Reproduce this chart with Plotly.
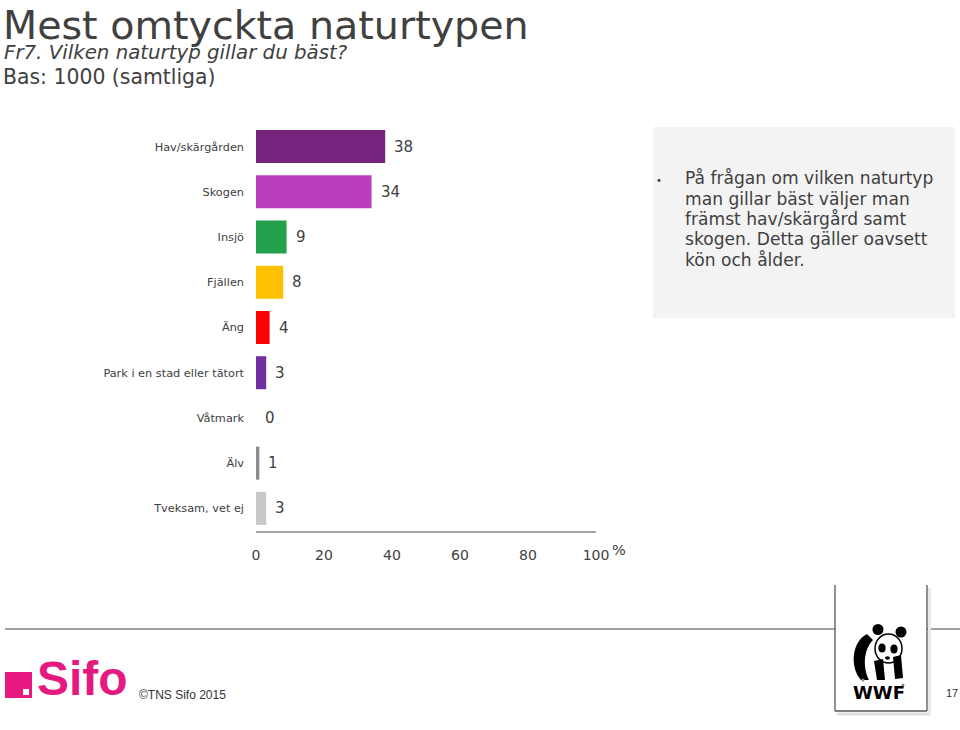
import plotly.graph_objects as go

categories = ["Hav/skärgården", "Skogen", "Insjö", "Fjällen", "Äng",
              "Park i en stad eller tätort", "Våtmark", "Älv", "Tveksam, vet ej"]
values = [38, 34, 9, 8, 4, 3, 0, 1, 3]
colors = ["#76237D", "#B93FBF", "#22A04B", "#FFC000", "#FF0000",
          "#7030A0", "#7F7F7F", "#8C8C8C", "#C8C8C8"]
x_ticks = [0, 20, 40, 60, 80, 100]
box_lines = ["På frågan om vilken naturtyp", "man gillar bäst väljer man",
             "främst hav/skärgård samt", "skogen. Detta gäller oavsett",
             "kön och ålder."]

W, H = 960, 730
def px(x): return x / W
def py(y): return 1 - y / H

FONT = "DejaVu Sans"
TXT = "#404040"

fig = go.Figure()
fig.add_trace(go.Bar(
    x=values, y=categories, orientation="h",
    marker=dict(color=colors, line=dict(width=0)),
    width=0.73, hoverinfo="x+y", showlegend=False,
))

annotations = []
for c, v in zip(categories, values):
    annotations.append(dict(x=v, y=c, xref="x", yref="y", text=str(v),
                            showarrow=False, xanchor="left", yanchor="middle",
                            xshift=7, font=dict(family=FONT, size=15, color=TXT)))

def ann(x, y, text, size, family=FONT, color=TXT, xanchor="left", yanchor="middle"):
    annotations.append(dict(x=px(x), y=py(y), xref="paper", yref="paper", text=text,
                            showarrow=False, xanchor=xanchor, yanchor=yanchor, align="left",
                            font=dict(family=family, size=size, color=color)))

ann(610, 550, "%", 14.5)
ann(1, 0, "Mest omtyckta naturtypen", 39.6, yanchor="top")
ann(2, 53, "<i>Fr7. Vilken naturtyp gillar du bäst?</i>", 19.8)
ann(1, 77, "Bas: 1000 (samtliga)", 20.4)
for i, line in enumerate(box_lines):
    ann(683, 178 + i * 20.5, line, 17.1)
ann(654, 180, "•", 10)
# Footer
ann(35, 678, "<b>Sifo</b>", 48, family="Liberation Sans", color="#E5197F")
ann(137, 695, "©TNS Sifo 2015", 12, family="Liberation Sans", color="#333333")

def rect(x0, y0, x1, y1, fill, layer="above"):
    return dict(type="rect", xref="paper", yref="paper", x0=px(x0), x1=px(x1),
                y0=py(y1), y1=py(y0), fillcolor=fill, line=dict(width=0), layer=layer)

def line(x0, y0, x1, y1, color, width):
    return dict(type="line", xref="paper", yref="paper", x0=px(x0), x1=px(x1),
                y0=py(y0), y1=py(y1), line=dict(color=color, width=width))

def circ(cx, cy, rx, ry, fill="#000000"):
    return dict(type="circle", xref="paper", yref="paper", x0=px(cx - rx), x1=px(cx + rx),
                y0=py(cy + ry), y1=py(cy - ry), fillcolor=fill, line=dict(width=0))

def path(points, fill="#000000"):
    d = ""
    for i, p in enumerate(points):
        if p[0] == "C":
            d += " C " + " ".join(f"{px(a)},{py(b)}" for a, b in p[1:])
        else:
            d += (" M " if i == 0 else " L ") + f"{px(p[0])},{py(p[1])}"
    d += " Z"
    return dict(type="path", xref="paper", yref="paper", path=d,
                fillcolor=fill, line=dict(width=0))

shapes = [
    rect(653, 127, 955, 318, "#F3F3F3", layer="below"),
    line(5, 629, 960, 629, "#808080", 1.5),
    # WWF box
    rect(835, 585, 927, 711, "#FFFFFF"),
    line(837, 714, 930, 714, "#E0E0E0", 3),
    line(929.5, 588, 929.5, 714, "#E8E8E8", 3),
    line(835, 585, 835, 711, "#555555", 1.3),
    line(927, 585, 927, 711, "#555555", 1.3),
    line(835, 711, 927, 711, "#555555", 1.3),
    # Sifo square
    rect(5, 672, 32, 698, "#E5197F"),
    rect(23, 689, 29, 695, "#FFFFFF"),
    # panda
    dict(type="circle", xref="paper", yref="paper", x0=px(875), x1=px(902),
         y0=py(663), y1=py(634), line=dict(color="#000000", width=1.5)),
    path([(867, 634), ("C", (851, 642), (850, 668), (861, 680)), (869, 680),
          ("C", (863, 668), (863, 650), (873, 640))]),
    path([(874, 661), (883, 659), (885, 680), (877, 680)]),
    path([(893, 657), (901, 655), (903, 678), (895, 679)]),
    circ(878, 629.5, 5.5, 5.5),
    circ(901, 632, 5.5, 5.5),
    circ(882, 648, 3.6, 4.5),
    circ(894, 649, 3.6, 4.5),
    circ(887.5, 658, 2.5, 1.8),
    circ(863, 680, 1.5, 1.5, "#888888"),
    circ(903, 685, 1.5, 1.5, "#888888"),
]

ann(879, 692, "<b>WWF</b>", 18, family="DejaVu Sans", color="#000000", xanchor="center")
ann(952, 693, "17", 11, family="Liberation Sans", color="#333333", xanchor="center")

fig.update_layout(
    width=W, height=H,
    margin=dict(l=0, r=0, t=0, b=0),
    paper_bgcolor="#FFFFFF", plot_bgcolor="#FFFFFF",
    xaxis=dict(domain=[px(256), px(596)], range=[0, 100], tickvals=x_ticks,
               ticktext=[str(t) for t in x_ticks], showgrid=False, zeroline=False,
               showline=True, linecolor="#A6A6A6", linewidth=2, ticks="",
               tickfont=dict(family=FONT, size=14, color=TXT), ticklabelstandoff=10,
               fixedrange=True, automargin=False),
    yaxis=dict(domain=[py(531), py(124)], categoryorder="array", categoryarray=categories,
               autorange="reversed", showgrid=False, zeroline=False, showline=False, ticks="",
               tickfont=dict(family=FONT, size=11.3, color=TXT), ticklabelstandoff=11,
               fixedrange=True, automargin=False),
    annotations=annotations, shapes=shapes,
)

fig.write_html(
    "out.html",
    config={"displayModeBar": False},
    post_script="document.body.style.margin='0';document.body.style.overflow='hidden';",
)
